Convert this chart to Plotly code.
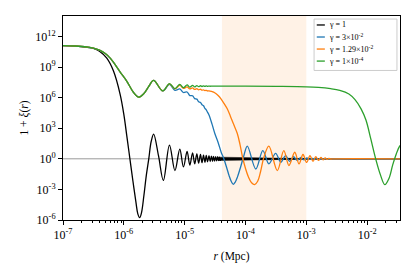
import numpy as np
import plotly.graph_objects as go

# ---- data (log10 r [Mpc], log10(1+xi)) ----
log_r_black = [-7.0, -6.8, -6.6, -6.5, -6.4, -6.28, -6.17, -6.06, -6.0, -5.95, -5.90, -5.85, -5.80, -5.77,
               -5.74, -5.71, -5.67, -5.63, -5.59, -5.55, -5.51, -5.43, -5.35, -5.25, -5.16, -5.08, -5.02,
               -4.96, -4.915, -4.87, -4.835, -4.80, -4.77, -4.74, -4.715, -4.69, -4.667, -4.645, -4.623,
               -4.60, -4.58, -4.56, -4.542, -4.525, -4.508, -4.49, -4.474, -4.458, -4.443, -4.43, -4.416,
               -4.40, -4.3, -1.44]
log_y_black = [11.09, 11.05, 10.93, 10.83, 10.55, 9.86, 8.6, 6.3, 4.36, 2.2, 0.0, -2.2, -4.3, -5.4,
               -5.77, -5.3, -3.6, -1.6, 0.0, 1.7, 2.42, 0.3, -2.12, 1.35, -1.15, 0.95, -0.8,
               0.72, -0.62, 0.58, -0.5, 0.48, -0.43, 0.42, -0.38, 0.37, -0.34, 0.33, -0.3,
               0.3, -0.27, 0.27, -0.24, 0.24, -0.22, 0.22, -0.2, 0.2, -0.18, 0.17, -0.15,
               0.0, 0.0, 0.0]

# envelope of the unresolved fast oscillation of the gamma=1 curve
log_r_black_env = [-4.44, -4.3, -4.1, -3.9, -3.6, -3.3, -3.0, -2.8]
log_y_black_env_hi = [0.16, 0.14, 0.12, 0.10, 0.08, 0.06, 0.03, 0.0]
log_y_black_env_lo = [-0.16, -0.14, -0.12, -0.10, -0.08, -0.06, -0.03, 0.0]

log_r_blue = [-7.0, -6.8, -6.6, -6.5, -6.4, -6.3, -6.22, -6.14, -6.06, -5.95, -5.84, -5.755, -5.67, -5.59,
              -5.51, -5.36, -5.25, -5.16, -5.08, -5.02, -4.96, -4.915, -4.87, -4.835, -4.80, -4.77, -4.74,
              -4.715, -4.69, -4.667, -4.645, -4.623, -4.60, -4.55, -4.50, -4.45, -4.40, -4.356, -4.31,
              -4.27, -4.235, -4.20, -4.165, -4.13, -4.08, -4.027, -3.97, -3.83, -3.715, -3.615, -3.505,
              -3.42, -3.34, -3.275, -3.21, -3.15, -3.09, -3.04, -2.99, -2.945, -2.905, -2.86, -2.8, -1.44]
log_y_blue = [11.1, 11.06, 10.96, 10.86, 10.65, 10.3, 9.85, 9.2, 8.5, 7.6, 6.5, 6.04, 6.4, 7.1,
              7.69, 6.65, 7.3, 6.72, 6.85, 6.5, 6.55, 6.2, 6.18, 5.9, 5.85, 5.6, 5.52,
              5.3, 5.2, 4.95, 4.8, 4.55, 4.3, 3.4, 2.4, 1.6, 0.65, 0.0, -0.85,
              -1.65, -2.2, -2.5, -2.25, -1.75, -0.8, 0.3, 1.25, -1.0, 0.8, -0.5, 0.54,
              -0.33, 0.31, -0.25, 0.2, -0.16, 0.13, -0.1, 0.08, -0.06, 0.04, -0.02, 0.0, 0.0]

log_r_orange = [-7.0, -6.8, -6.6, -6.5, -6.4, -6.3, -6.22, -6.14, -6.06, -5.95, -5.84, -5.755, -5.67, -5.59,
                -5.51, -5.36, -5.25, -5.16, -5.08, -5.02, -4.96, -4.915, -4.87, -4.835, -4.80, -4.77, -4.74,
                -4.715, -4.69, -4.667, -4.645, -4.623, -4.60, -4.56, -4.50, -4.45, -4.40, -4.35, -4.30,
                -4.25, -4.20, -4.136, -4.09, -4.05, -4.00, -3.95, -3.90, -3.85, -3.80, -3.75, -3.70,
                -3.616, -3.477, -3.37, -3.286, -3.19, -3.12, -3.055, -2.995, -2.94, -2.89, -2.845, -2.80,
                -2.76, -2.725, -2.69, -2.66, -2.63, -2.60, -2.55, -1.44]
log_y_orange = [11.1, 11.06, 10.96, 10.86, 10.65, 10.3, 9.85, 9.2, 8.5, 7.6, 6.5, 6.04, 6.4, 7.1,
                7.69, 6.65, 7.35, 6.86, 7.2, 6.9, 7.05, 6.85, 6.95, 6.8, 6.87, 6.76, 6.82,
                6.73, 6.76, 6.69, 6.71, 6.65, 6.66, 6.6, 6.45, 6.2, 5.85, 5.4, 4.9,
                4.2, 3.45, 2.5, 1.4, 0.2, -0.95, -1.8, -2.35, -2.53, -2.2, -1.2, 0.1,
                1.25, -1.15, 0.8, -0.66, 0.64, -0.5, 0.42, -0.36, 0.3, -0.25, 0.2, -0.16,
                0.13, -0.1, 0.08, -0.06, 0.04, -0.02, 0.0, 0.0]

log_r_green = [-7.0, -6.8, -6.6, -6.5, -6.4, -6.3, -6.22, -6.14, -6.06, -5.95, -5.84, -5.755, -5.67, -5.59,
               -5.51, -5.36, -5.25, -5.16, -5.08, -5.02, -4.96, -4.915, -4.87, -4.835, -4.80, -4.77, -4.74,
               -4.715, -4.69, -4.667, -4.645, -4.623, -4.60, -4.58, -4.56, -4.50, -4.0, -3.5, -3.0,
               -2.8, -2.6, -2.45, -2.3, -2.2, -2.1, -2.02, -1.94, -1.86, -1.78, -1.71, -1.64, -1.58,
               -1.52, -1.47, -1.44]
log_y_green = [11.1, 11.06, 10.96, 10.86, 10.65, 10.3, 9.85, 9.2, 8.5, 7.6, 6.5, 6.04, 6.4, 7.1,
               7.69, 6.65, 7.37, 6.88, 7.3, 6.97, 7.24, 7.02, 7.2, 7.05, 7.18, 7.07, 7.16,
               7.09, 7.15, 7.1, 7.14, 7.11, 7.13, 7.115, 7.125, 7.12, 7.12, 7.1, 7.06,
               7.0, 6.87, 6.7, 6.35, 5.8, 4.9, 3.8, 1.95, 0.0, -1.6, -2.53, -1.9, -0.6,
               0.5, 1.2, 1.4]

series_names = ["γ = 1", "γ = 3×10<sup>-2</sup>", "γ = 1.29×10<sup>-2</sup>", "γ = 1×10<sup>-4</sup>"]
series_colors = ["#000000", "#1f77b4", "#ff7f0e", "#2ca02c"]

shade_r = [4.1e-5, 1.0e-3]
x_tick_exp = [-7, -6, -5, -4, -3, -2]
y_tick_exp = [-6, -3, 0, 3, 6, 9, 12]

FONT = "Liberation Serif"

def p(v):
    return np.power(10.0, np.asarray(v, dtype=float))

fig = go.Figure()

fig.add_vrect(x0=shade_r[0], x1=shade_r[1], fillcolor="rgba(255,127,14,0.1)", line_width=0, layer="below")
fig.add_hline(y=1, line_color="#808080", line_width=0.8, layer="below")

lw = 1.3
fig.add_trace(go.Scatter(x=p(log_r_black), y=p(log_y_black), mode="lines", name=series_names[0],
                         line=dict(color=series_colors[0], width=lw, shape="spline", smoothing=1)))
env_x = list(p(log_r_black_env)) + list(p(log_r_black_env[::-1]))
env_y = list(p(log_y_black_env_hi)) + list(p(log_y_black_env_lo[::-1]))
fig.add_trace(go.Scatter(x=env_x, y=env_y, mode="lines", fill="toself", fillcolor="#000000",
                         line=dict(color="#000000", width=0.5), showlegend=False, hoverinfo="skip"))
fig.add_trace(go.Scatter(x=p(log_r_blue), y=p(log_y_blue), mode="lines", name=series_names[1],
                         line=dict(color=series_colors[1], width=lw, shape="spline", smoothing=1)))
fig.add_trace(go.Scatter(x=p(log_r_orange), y=p(log_y_orange), mode="lines", name=series_names[2],
                         line=dict(color=series_colors[2], width=lw, shape="spline", smoothing=1)))
fig.add_trace(go.Scatter(x=p(log_r_green), y=p(log_y_green), mode="lines", name=series_names[3],
                         line=dict(color=series_colors[3], width=lw, shape="spline", smoothing=1)))

# ---- compact legend box (matplotlib style) in paper coordinates ----
leg_x0, leg_x1, leg_y0, leg_y1 = 0.745, 0.991, 0.733, 0.985
fig.add_shape(type="rect", xref="paper", yref="paper", x0=leg_x0, x1=leg_x1, y0=leg_y0, y1=leg_y1,
              fillcolor="rgba(255,255,255,0.85)", line=dict(color="#cccccc", width=1), layer="above")
row_y = [0.956, 0.897, 0.838, 0.779]
for name, col, yy in zip(series_names, series_colors, row_y):
    fig.add_shape(type="line", xref="paper", yref="paper", x0=0.753, x1=0.777, y0=yy, y1=yy,
                  line=dict(color=col, width=1.3), layer="above")
    fig.add_annotation(xref="paper", yref="paper", x=0.782, y=yy, text=name, showarrow=False,
                       xanchor="left", yanchor="middle", font=dict(family=FONT, size=8, color="black"))

minor_vals = [m * 10.0 ** e for e in range(-7, -1) for m in range(2, 10)]
minor_vals = [v for v in minor_vals if v <= 10 ** -1.46]

fig.update_layout(
    width=416, height=272,
    margin=dict(l=63, r=16, t=16, b=50),
    paper_bgcolor="white", plot_bgcolor="white",
    font=dict(family=FONT, size=12, color="black"),
    showlegend=False,
    xaxis=dict(type="log", range=[-7, -1.46], showgrid=False, zeroline=False,
               showline=True, linecolor="black", linewidth=1, mirror=True,
               ticks="outside", ticklen=4, tickwidth=1, tickcolor="black",
               tickvals=[10.0 ** e for e in x_tick_exp],
               ticktext=["10<sup>%d</sup>" % e for e in x_tick_exp],
               minor=dict(ticks="outside", ticklen=2, tickwidth=0.8, tickcolor="black",
                          tickvals=minor_vals, showgrid=False),
               title=dict(text="<i>r</i> (Mpc)", standoff=10, font=dict(size=11.5))),
    yaxis=dict(type="log", range=[-6, 14], showgrid=False, zeroline=False,
               showline=True, linecolor="black", linewidth=1, mirror=True,
               ticks="outside", ticklen=4, tickwidth=1, tickcolor="black",
               tickvals=[10.0 ** e for e in y_tick_exp],
               ticktext=["10<sup>%d</sup>" % e for e in y_tick_exp],
               title=dict(text="1 + <i>ξ</i>(<i>r</i>)", standoff=4, font=dict(size=11.5))),
)

fig.write_html("out.html", config={"displayModeBar": False},
               post_script="document.body.style.margin='0px';")
